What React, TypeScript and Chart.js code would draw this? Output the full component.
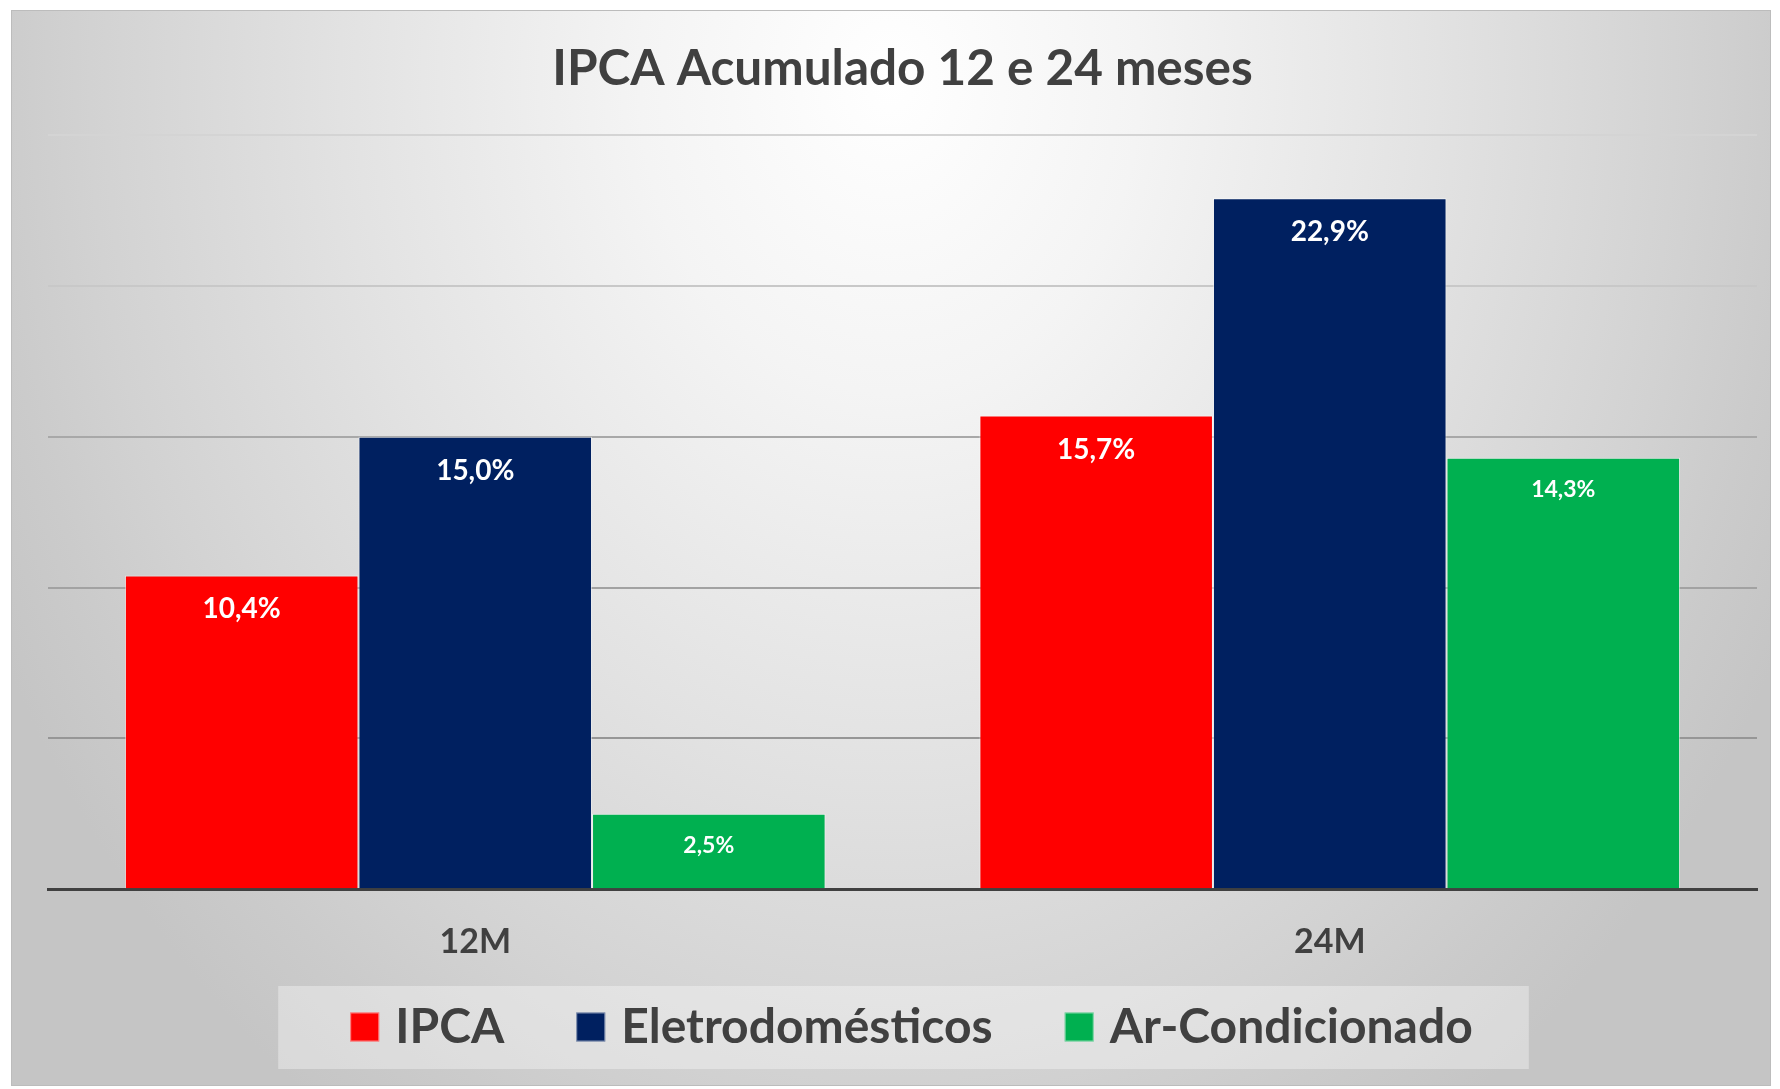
import React, { useEffect, useRef } from 'react';
import { Chart, registerables } from 'chart.js';

Chart.register(...registerables);

const titleText = 'IPCA Acumulado 12 e 24 meses';
const categories = ['12M', '24M'];
const seriesNames = ['IPCA', 'Eletrodomésticos', 'Ar-Condicionado'];
const ipcaValues = [10.4, 15.7];
const eletroValues = [15.0, 22.9];
const arCondValues = [2.5, 14.3];
const seriesColors = ['#FF0000', '#002060', '#00B050'];
const yMin = 0;
const yMax = 25;
const yStep = 5;

const FONT = "Lato, 'Open Sans', sans-serif";
const TEXT_DARK = '#404040';

const gridColorFor = (v: number) => {
  if (v === 0) return 'rgba(0,0,0,0)';
  if (v >= 25) return '#d4d4d4';
  if (v >= 20) return '#c8c8c8';
  if (v >= 15) return '#a8a8a8';
  if (v >= 10) return '#a2a2a2';
  return '#969696';
};

const fmtPct = (v: number) => v.toFixed(1).replace('.', ',') + '%';

const framePlugin = {
  id: 'frameBg',
  beforeDraw(chart: any) {
    const ctx = chart.ctx as CanvasRenderingContext2D;
    const x0 = 11, y0 = 10, x1 = chart.width - 9, y1 = chart.height - 3;
    ctx.save();
    ctx.beginPath();
    ctx.rect(x0, y0, x1 - x0, y1 - y0);
    ctx.clip();
    ctx.translate(890, 80);
    ctx.scale(1, 1.25);
    const g = ctx.createRadialGradient(0, 0, 0, 0, 0, 1000);
    g.addColorStop(0, '#ffffff');
    g.addColorStop(0.25, '#f4f4f4');
    g.addColorStop(0.45, '#e8e8e8');
    g.addColorStop(0.55, '#e2e2e2');
    g.addColorStop(0.8, '#d2d2d2');
    g.addColorStop(0.9, '#cbcbcb');
    g.addColorStop(1, '#c5c5c5');
    ctx.fillStyle = g;
    ctx.fillRect(-1000, -1000, 3000, 3000);
    ctx.restore();
    ctx.save();
    ctx.strokeStyle = '#bcbcbc';
    ctx.lineWidth = 1;
    ctx.strokeRect(x0 + 0.5, y0 + 0.5, x1 - x0 - 1, y1 - y0 - 1);
    ctx.restore();
  },
};

const dataLabelPlugin = {
  id: 'barValueLabels',
  afterDatasetsDraw(chart: any) {
    const ctx = chart.ctx as CanvasRenderingContext2D;
    ctx.save();
    ctx.fillStyle = '#ffffff';
    ctx.textAlign = 'center';
    ctx.textBaseline = 'middle';
    chart.data.datasets.forEach((ds: any, i: number) => {
      const meta = chart.getDatasetMeta(i);
      const size = i === 2 ? 23 : 28;
      const off = i === 2 ? 32 : 34;
      ctx.font = `bold ${size}px ${FONT}`;
      meta.data.forEach((bar: any, j: number) => {
        ctx.fillText(fmtPct(ds.data[j]), bar.x, bar.y + off);
      });
    });
    ctx.restore();
  },
};

const legendPlugin = {
  id: 'boxLegend',
  afterDraw(chart: any) {
    const ctx = chart.ctx as CanvasRenderingContext2D;
    const ds = chart.data.datasets;
    ctx.save();
    ctx.font = `bold 48px ${FONT}`;
    const box = 29, gapText = 16, gapItem = 72;
    const widths = ds.map((d: any) => ctx.measureText(d.label).width);
    const total = widths.reduce((a: number, w: number) => a + box + gapText + w, 0) + gapItem * (ds.length - 1);
    const cx = (chart.chartArea.left + chart.chartArea.right) / 2 + 9;
    const cy = chart.height - 62;
    let x = cx - total / 2;
    ctx.fillStyle = 'rgba(255,255,255,0.35)';
    ctx.fillRect(x - 72, cy - 41, total + 72 + 56, 83);
    ctx.textBaseline = 'middle';
    ctx.textAlign = 'left';
    ds.forEach((d: any, i: number) => {
      ctx.fillStyle = d.backgroundColor;
      ctx.fillRect(x, cy - box / 2, box, box);
      ctx.strokeStyle = 'rgba(255,255,255,0.5)';
      ctx.lineWidth = 1;
      ctx.strokeRect(x + 0.5, cy - box / 2 + 0.5, box - 1, box - 1);
      ctx.fillStyle = TEXT_DARK;
      ctx.fillText(d.label, x + box + gapText, cy + 1);
      x += box + gapText + widths[i] + gapItem;
    });
    ctx.restore();
  },
};

export default function App() {
  const canvasRef = useRef<HTMLCanvasElement | null>(null);

  useEffect(() => {
    if (!canvasRef.current) return;
    const seriesValues = [ipcaValues, eletroValues, arCondValues];
    const chart = new Chart(canvasRef.current, {
      type: 'bar',
      data: {
        labels: categories,
        datasets: seriesNames.map((name, i) => ({
          label: name,
          data: seriesValues[i],
          backgroundColor: seriesColors[i],
          borderColor: 'rgba(255,255,255,0.55)',
          borderWidth: 1,
          categoryPercentage: 0.82,
          barPercentage: 1.0,
        })),
      },
      options: {
        responsive: false,
        maintainAspectRatio: false,
        animation: false,
        devicePixelRatio: 1,
        layout: { padding: { left: 48, right: 23, top: 10, bottom: 95 } },
        plugins: {
          legend: { display: false },
          tooltip: { enabled: false },
          title: {
            display: true,
            text: titleText,
            color: TEXT_DARK,
            font: { family: FONT, size: 49.5, weight: 'bold', lineHeight: 1.2 },
            padding: { top: 29, bottom: 36.6 },
          },
        },
        scales: {
          x: {
            grid: { display: false, drawTicks: false },
            border: { display: true, color: TEXT_DARK, width: 3 },
            ticks: {
              color: TEXT_DARK,
              font: { family: FONT, size: 34, weight: 'bold', lineHeight: 1.2 },
              padding: 32,
            },
          },
          y: {
            min: yMin,
            max: yMax,
            ticks: { display: false, stepSize: yStep },
            border: { display: false },
            grid: {
              drawTicks: false,
              lineWidth: 2,
              color: (c: any) => gridColorFor(c.tick ? c.tick.value : 0),
            },
          },
        },
      },
      plugins: [framePlugin, dataLabelPlugin, legendPlugin],
    });
    return () => chart.destroy();
  }, []);

  return (
    <div style={{ position: 'fixed', left: 0, top: 0, width: 1780, height: 1089, background: '#ffffff' }}>
      <canvas ref={canvasRef} width={1780} height={1089} style={{ display: 'block', width: 1780, height: 1089 }} />
    </div>
  );
}
